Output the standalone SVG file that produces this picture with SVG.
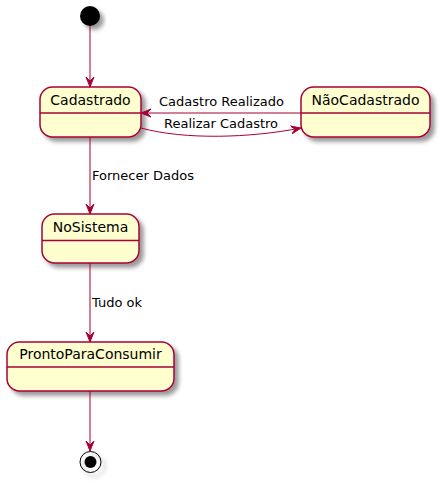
<svg xmlns="http://www.w3.org/2000/svg" width="442" height="483" viewBox="0 0 442 483">
<defs>
<filter id="sh" x="-20%" y="-20%" width="150%" height="160%">
<feGaussianBlur in="SourceAlpha" stdDeviation="2"/>
<feOffset dx="4" dy="4" result="b"/>
<feColorMatrix in="b" type="matrix" values="0 0 0 0 0  0 0 0 0 0  0 0 0 0 0  0 0 0 0.4 0" result="c"/>
<feMerge><feMergeNode in="c"/><feMergeNode in="SourceGraphic"/></feMerge>
</filter>
<marker id="ah" markerWidth="10" markerHeight="10" refX="10" refY="4" orient="auto" markerUnits="userSpaceOnUse" viewBox="0 0 10 8">
<path d="M0,0 L10,4 L0,8 L4,4 Z" fill="#A80036" stroke="#A80036" stroke-width="1"/>
</marker>
</defs>
<style>
.st{fill:#FEFECE;stroke:#A80036;stroke-width:1.5;filter:url(#sh)}
.sep{stroke:#A80036;stroke-width:1.5}
.nm{font-family:"DejaVu Sans",sans-serif;font-size:14px;fill:#000;text-anchor:middle}
.lb{font-family:"DejaVu Sans",sans-serif;font-size:13px;fill:#000}
.cn{fill:none;stroke:#A80036;stroke-width:1;marker-end:url(#ah)}
</style>
<rect width="442" height="483" fill="#FFFFFF"/>
<g id="start"><circle cx="90" cy="16" r="10" fill="#000" filter="url(#sh)"/></g>
<g id="Cadastrado">
<rect class="st" x="40" y="87" width="101" height="50" rx="12.5" ry="12.5"/>
<line class="sep" x1="40" y1="113" x2="141" y2="113"/>
<text class="nm" x="90.5" y="104.5">Cadastrado</text>
</g>
<g id="NaoCadastrado">
<rect class="st" x="301" y="87" width="129" height="50" rx="12.5" ry="12.5"/>
<line class="sep" x1="301" y1="113" x2="430" y2="113"/>
<text class="nm" x="365.5" y="104.5">NãoCadastrado</text>
</g>
<g id="NoSistema">
<rect class="st" x="42" y="214" width="97" height="49" rx="12.5" ry="12.5"/>
<line class="sep" x1="42" y1="240.5" x2="139" y2="240.5"/>
<text class="nm" x="90.5" y="232">NoSistema</text>
</g>
<g id="ProntoParaConsumir">
<rect class="st" x="7" y="342" width="167" height="49" rx="12.5" ry="12.5"/>
<line class="sep" x1="7" y1="367" x2="174" y2="367"/>
<text class="nm" x="90.5" y="359">ProntoParaConsumir</text>
</g>
<g id="end">
<circle cx="90.5" cy="462" r="10.5" fill="none" stroke="#000" stroke-width="1" filter="url(#sh)"/>
<circle cx="90.5" cy="462" r="6" fill="#000"/>
</g>
<g id="connectors">
<path class="cn" d="M90,26 L90,87"/>
<path class="cn" d="M301,113 L141,113"/>
<text class="lb" x="159" y="105.5">Cadastro Realizado</text>
<path class="cn" d="M141,128 C185,140 250,138 301,128"/>
<text class="lb" x="164" y="127.5">Realizar Cadastro</text>
<path class="cn" d="M90,137 L90,214"/>
<text class="lb" x="92" y="180">Fornecer Dados</text>
<path class="cn" d="M90,263 L90,342"/>
<text class="lb" x="92" y="306.5">Tudo ok</text>
<path class="cn" d="M90,391 L90,451"/>
</g>
</svg>
